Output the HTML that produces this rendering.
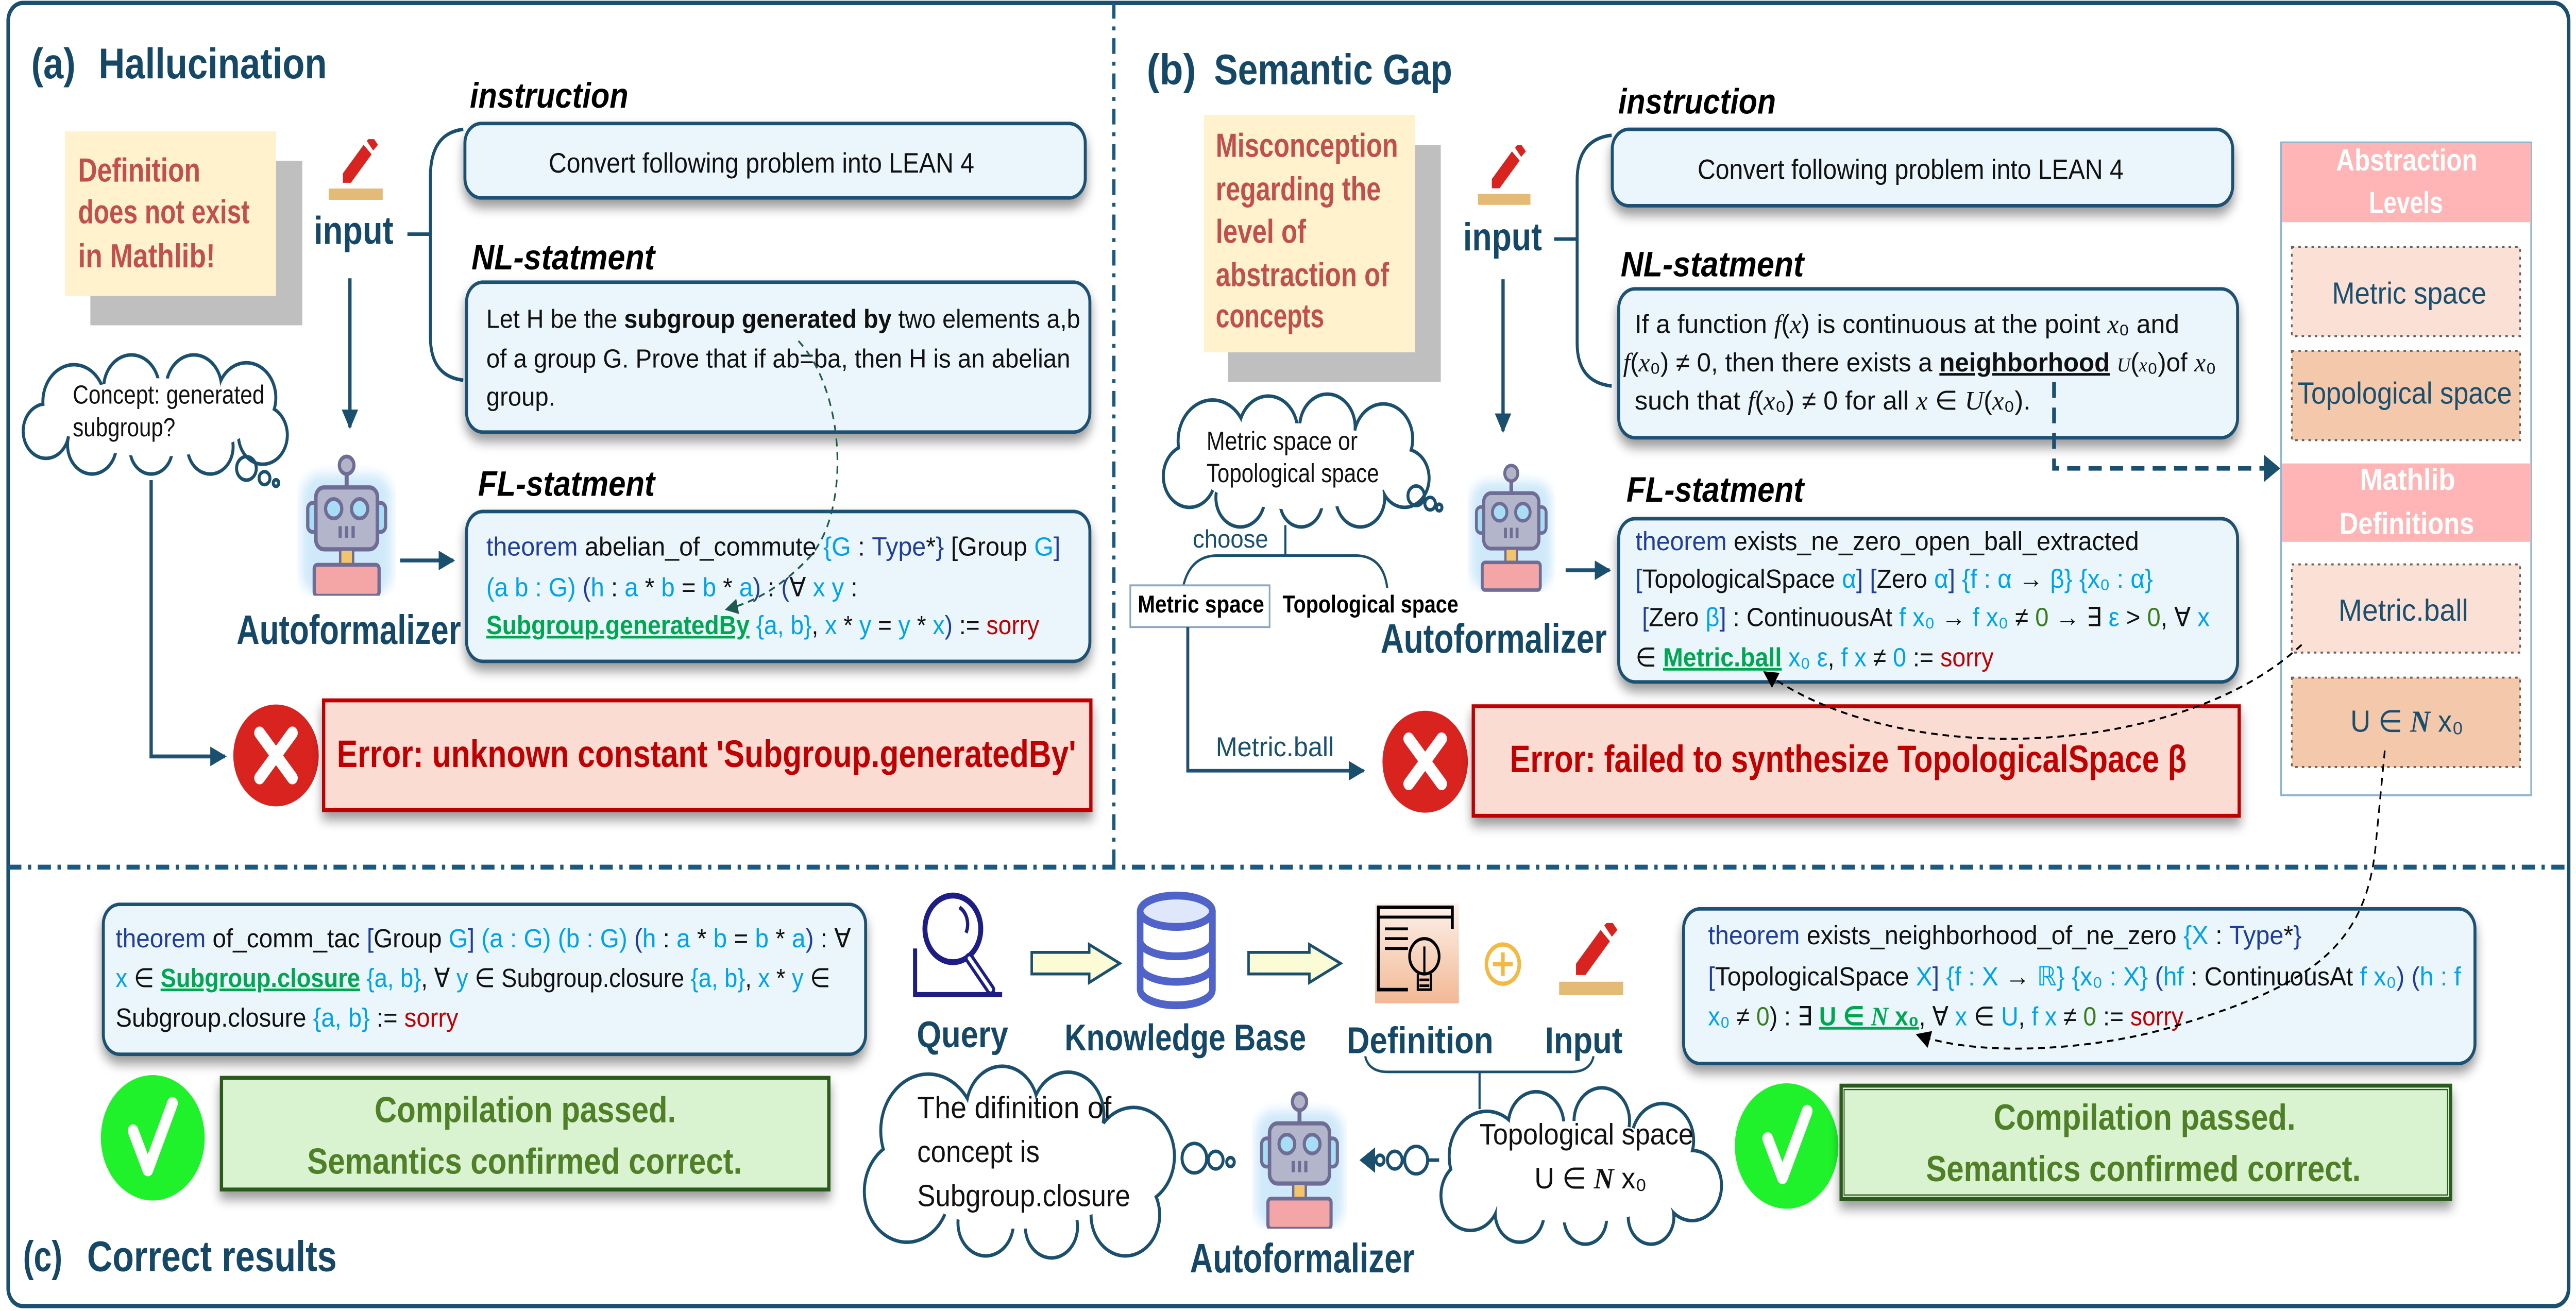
<!DOCTYPE html>
<html><head><meta charset="utf-8"><style>
html,body{margin:0;padding:0;background:#fff;width:100%;height:100%;overflow:hidden}
svg{display:block;position:absolute;left:0;top:0;width:100vw;height:100vh}
text{font-family:"Liberation Sans","DejaVu Sans",sans-serif}
.t{fill:#154866;font-weight:bold}
.lab{font-weight:bold;font-style:italic;fill:#000;font-size:18px}
.c{font-size:13.5px;fill:#111}
.k{fill:#1f3d99}.v{fill:#00a2e8}.g{fill:#00a651;font-weight:bold;text-decoration:underline}.r{fill:#c00000}.n{fill:#3a7d1e}
.m{font-family:"Liberation Serif",serif;font-style:italic}
</style></head><body>
<svg viewBox="0 0 1568 669" preserveAspectRatio="none" xmlns="http://www.w3.org/2000/svg">
<defs>
<filter id="sh" x="-10%" y="-20%" width="120%" height="160%"><feDropShadow dx="0" dy="4" stdDeviation="3" flood-color="#000" flood-opacity="0.4"/></filter>
<filter id="bl"><feGaussianBlur stdDeviation="3"/></filter>
<marker id="ah" viewBox="0 0 10 10" refX="9" refY="5" markerWidth="10" markerHeight="10" markerUnits="userSpaceOnUse" orient="auto"><path d="M0,0 L10,5 L0,10 z" fill="#1a4f6e"/></marker>
<marker id="ahk" viewBox="0 0 10 10" refX="9" refY="5" markerWidth="9" markerHeight="9" markerUnits="userSpaceOnUse" orient="auto"><path d="M0,0 L10,5 L0,10 z" fill="#000"/></marker>
<marker id="ahg" viewBox="0 0 10 10" refX="9" refY="5" markerWidth="8" markerHeight="8" markerUnits="userSpaceOnUse" orient="auto"><path d="M0,0 L10,5 L0,10 z" fill="#1f5a50"/></marker>
<linearGradient id="pe" x1="0" y1="0" x2="0" y2="1"><stop offset="0" stop-color="#fdf1ea"/><stop offset="1" stop-color="#f2b894"/></linearGradient>
<symbol id="robot" viewBox="0 0 60 75">
<rect x="2" y="12" width="56" height="63" rx="12" fill="#cfe9fa" filter="url(#bl)"/>
<line x1="30" y1="11" x2="30" y2="20" stroke="#6f6c95" stroke-width="2.5"/>
<circle cx="30" cy="7.5" r="4.5" fill="#b3b4c8" stroke="#6f6c95" stroke-width="2"/>
<rect x="6" y="27" width="7" height="15" rx="3" fill="#a8def5" stroke="#6f6c95" stroke-width="2"/>
<rect x="47" y="27" width="7" height="15" rx="3" fill="#a8def5" stroke="#6f6c95" stroke-width="2"/>
<rect x="11" y="19" width="38" height="32" rx="5" fill="#b3b5cb" stroke="#6f6c95" stroke-width="2.2"/>
<circle cx="22" cy="30" r="5" fill="#a8def5" stroke="#6f6c95" stroke-width="2"/>
<circle cx="38" cy="30" r="5" fill="#a8def5" stroke="#6f6c95" stroke-width="2"/>
<path d="M26,39v6M30,39v6M34,39v6" stroke="#6f6c95" stroke-width="2"/>
<rect x="26" y="51" width="8" height="8" fill="#f2c46c" stroke="#6f6c95" stroke-width="1.5"/>
<rect x="10" y="59" width="40" height="16" rx="2" fill="#f4a6a6" stroke="#6f6c95" stroke-width="2"/>
</symbol>
<symbol id="pen" viewBox="0 0 34 32">
<polygon points="9,18 22,3 27,8 14,23 9,23" fill="#d9231f"/>
<polygon points="24,1 27,-2 31,3 28,6" fill="#d9231f"/>
<rect x="0" y="26" width="34" height="6" fill="#e3bb77"/>
</symbol>
</defs>
<g>
<rect x="5" y="1.5" width="1558.5" height="665" rx="9" fill="none" stroke="#1a4f6e" stroke-width="2.2"/>
<line x1="678" y1="1.5" x2="678" y2="442" stroke="#1a5a80" stroke-width="2" stroke-dasharray="8 4 2 4"/>
<line x1="5" y1="442.5" x2="1563" y2="442.5" stroke="#1a5a80" stroke-width="2.5" stroke-dasharray="8 4 2 4"/>

<!-- ===== (a) ===== -->
<text class="t" x="19" y="40" font-size="22" textLength="27" lengthAdjust="spacingAndGlyphs">(a)</text>
<text class="t" x="60" y="40" font-size="22" textLength="139" lengthAdjust="spacingAndGlyphs">Hallucination</text>
<rect x="55" y="82" width="129" height="84" fill="#bfbfbf"/>
<rect x="39.5" y="67" width="128.5" height="84" fill="#fff2cc"/>
<g fill="#c0504d" font-weight="bold" font-size="17">
<text x="47.5" y="92.7" textLength="74.5" lengthAdjust="spacingAndGlyphs">Definition</text>
<text x="47.5" y="114" textLength="104.5" lengthAdjust="spacingAndGlyphs">does not exist</text>
<text x="47.5" y="136.4" textLength="83.5" lengthAdjust="spacingAndGlyphs">in Mathlib!</text>
</g>
<use href="#pen" x="200" y="71" width="33" height="31"/>
<text class="t" x="191" y="124.5" font-size="20" textLength="48.5" lengthAdjust="spacingAndGlyphs">input</text>
<path d="M282,66 Q262,68 262,90 V172 Q262,192 282,194 M248,119.5 H262" fill="none" stroke="#1a4f6e" stroke-width="1.8"/>
<line x1="213" y1="142" x2="213" y2="218" stroke="#1f5173" stroke-width="2" marker-end="url(#ah)"/>

<text class="lab" x="286" y="55" textLength="96.5" lengthAdjust="spacingAndGlyphs">instruction</text>
<rect x="283" y="63" width="377.6" height="38" rx="10" fill="#eaf6fc" stroke="#1f5173" stroke-width="1.8" filter="url(#sh)"/>
<text x="334" y="88" font-size="14.5" fill="#111" textLength="259" lengthAdjust="spacingAndGlyphs">Convert following problem into LEAN 4</text>

<text class="lab" x="287" y="137.5" textLength="111.6" lengthAdjust="spacingAndGlyphs">NL-statment</text>
<rect x="284" y="144" width="379.4" height="76.5" rx="10" fill="#eaf6fc" stroke="#1f5173" stroke-width="1.8" filter="url(#sh)"/>
<text class="c" x="296" y="167.3" textLength="361.5" lengthAdjust="spacingAndGlyphs">Let H be the <tspan font-weight="bold">subgroup generated by</tspan> two elements a,b</text>
<text class="c" x="296" y="187.5" textLength="355.5" lengthAdjust="spacingAndGlyphs">of a group G. Prove that if ab=ba, then H is an abelian</text>
<text class="c" x="296" y="207" textLength="42" lengthAdjust="spacingAndGlyphs">group.</text>

<text class="lab" x="291" y="253" textLength="107.6" lengthAdjust="spacingAndGlyphs">FL-statment</text>
<rect x="284" y="261" width="379.4" height="76.5" rx="10" fill="#eaf6fc" stroke="#1f5173" stroke-width="1.8" filter="url(#sh)"/>
<text class="c" x="296" y="283.5" textLength="349.5" lengthAdjust="spacingAndGlyphs"><tspan class="k">theorem</tspan> abelian_of_commute <tspan class="v">{G</tspan> : <tspan class="k">Type</tspan>*<tspan class="k">}</tspan> [Group <tspan class="v">G</tspan><tspan class="k">]</tspan></text>
<text class="c" x="296" y="304.3" textLength="226" lengthAdjust="spacingAndGlyphs"><tspan class="v">(a b : G)</tspan> <tspan class="k">(</tspan><tspan class="v">h</tspan> : <tspan class="v">a</tspan> * <tspan class="v">b</tspan> = <tspan class="v">b</tspan> * <tspan class="v">a</tspan><tspan class="k">)</tspan> : <tspan class="k">(</tspan>∀ <tspan class="v">x y</tspan> :</text>
<text class="c" x="296" y="323.6" textLength="336.6" lengthAdjust="spacingAndGlyphs"><tspan class="g">Subgroup.generatedBy</tspan> <tspan class="v">{a, b}</tspan>, <tspan class="v">x</tspan> * <tspan class="v">y</tspan> = <tspan class="v">y</tspan> * <tspan class="v">x</tspan><tspan class="k">)</tspan> := <tspan class="r">sorry</tspan></text>
<path d="M486,174 C515,200 518,262 492,285 C476,299 460,307 442,311" fill="none" stroke="#1f5a50" stroke-width="1" stroke-dasharray="4 3" marker-end="url(#ahg)"/>

<use href="#robot" x="181" y="230" width="60" height="74"/>
<text class="t" x="144" y="328.6" font-size="21" textLength="136.6" lengthAdjust="spacingAndGlyphs">Autoformalizer</text>
<line x1="243.6" y1="286" x2="276" y2="286" stroke="#1f5173" stroke-width="2" marker-end="url(#ah)"/>

<g stroke="#1a4f6e" stroke-width="3.6" fill="#fff">
<circle cx="45" cy="205" r="18"/><circle cx="80" cy="198" r="16"/><circle cx="118" cy="198" r="16"/><circle cx="150" cy="203" r="17"/><circle cx="160" cy="222" r="14"/><circle cx="128" cy="228" r="13"/><circle cx="92" cy="229" r="12"/><circle cx="56" cy="227" r="14"/><circle cx="28" cy="220" r="13"/>
</g>
<g fill="#fff"><circle cx="45" cy="205" r="18"/><circle cx="80" cy="198" r="16"/><circle cx="118" cy="198" r="16"/><circle cx="150" cy="203" r="17"/><circle cx="160" cy="222" r="14"/><circle cx="128" cy="228" r="13"/><circle cx="92" cy="229" r="12"/><circle cx="56" cy="227" r="14"/><circle cx="28" cy="220" r="13"/><ellipse cx="95" cy="213" rx="60" ry="20"/></g>
<g fill="none" stroke="#1a4f6e" stroke-width="1.8"><circle cx="150" cy="239" r="6"/><circle cx="161" cy="244" r="3.3"/><circle cx="168" cy="246.5" r="1.7"/></g>
<text x="44.3" y="206" font-size="13.5" fill="#111" textLength="116.7" lengthAdjust="spacingAndGlyphs">Concept: generated</text>
<text x="44.3" y="222.7" font-size="13.5" fill="#111" textLength="62.4" lengthAdjust="spacingAndGlyphs">subgroup?</text>
<path d="M92,245 V386 H137" fill="none" stroke="#1f5173" stroke-width="2" marker-end="url(#ah)"/>

<circle cx="168" cy="385.5" r="26" fill="#d9231f"/>
<path d="M158,374 L178,397 M178,374 L158,397" stroke="#fff" stroke-width="6.5" stroke-linecap="round"/>
<rect x="197" y="357.4" width="467" height="56" fill="#fadcd2" stroke="#c00000" stroke-width="2" filter="url(#sh)"/>
<text x="205" y="391.4" font-size="19.5" font-weight="bold" fill="#c00000" textLength="450" lengthAdjust="spacingAndGlyphs">Error: unknown constant 'Subgroup.generatedBy'</text>

<!-- ===== (b) ===== -->
<text class="t" x="698" y="43" font-size="22" textLength="30" lengthAdjust="spacingAndGlyphs">(b)</text>
<text class="t" x="739" y="43" font-size="22" textLength="145" lengthAdjust="spacingAndGlyphs">Semantic Gap</text>
<rect x="747.4" y="74" width="129.6" height="121" fill="#bfbfbf"/>
<rect x="732.8" y="58.6" width="128.5" height="121.2" fill="#fff2cc"/>
<g fill="#c0504d" font-weight="bold" font-size="17">
<text x="740" y="80" textLength="111" lengthAdjust="spacingAndGlyphs">Misconception</text>
<text x="740" y="102.3" textLength="100.5" lengthAdjust="spacingAndGlyphs">regarding the</text>
<text x="740" y="124" textLength="55" lengthAdjust="spacingAndGlyphs">level of</text>
<text x="740" y="146" textLength="105.5" lengthAdjust="spacingAndGlyphs">abstraction of</text>
<text x="740" y="167" textLength="66" lengthAdjust="spacingAndGlyphs">concepts</text>
</g>
<use href="#pen" x="899.6" y="74" width="32" height="31"/>
<text class="t" x="890.6" y="127.8" font-size="20" textLength="48" lengthAdjust="spacingAndGlyphs">input</text>
<path d="M981,69 Q960,71 960,92 V175 Q960,195 981,197 M946,122 H960" fill="none" stroke="#1a4f6e" stroke-width="1.8"/>
<line x1="914.9" y1="142.5" x2="914.9" y2="220" stroke="#1f5173" stroke-width="2" marker-end="url(#ah)"/>

<text class="lab" x="985" y="58" textLength="96" lengthAdjust="spacingAndGlyphs">instruction</text>
<rect x="981.4" y="66" width="377.6" height="39" rx="10" fill="#eaf6fc" stroke="#1f5173" stroke-width="1.8" filter="url(#sh)"/>
<text x="1033.3" y="91.3" font-size="14.5" fill="#111" textLength="259.3" lengthAdjust="spacingAndGlyphs">Convert following problem into LEAN 4</text>

<text class="lab" x="986.5" y="141" textLength="111.5" lengthAdjust="spacingAndGlyphs">NL-statment</text>
<rect x="985.3" y="147.4" width="376.7" height="76" rx="10" fill="#eaf6fc" stroke="#1f5173" stroke-width="1.8" filter="url(#sh)"/>
<text class="c" x="995" y="170" textLength="331.5" lengthAdjust="spacingAndGlyphs">If a function <tspan class="m">f</tspan>(<tspan class="m">x</tspan>) is continuous at the point <tspan class="m">x</tspan>₀  and</text>
<text class="c" x="988" y="189.5" textLength="361" lengthAdjust="spacingAndGlyphs"><tspan class="m">f</tspan>(<tspan class="m">x</tspan>₀) ≠ 0, then there exists a <tspan font-weight="bold" text-decoration="underline">neighborhood</tspan>  <tspan class="m" font-size="10">U</tspan>(<tspan class="m" font-size="10">x</tspan>₀)of <tspan class="m">x</tspan>₀</text>
<text class="c" x="995" y="209" textLength="241" lengthAdjust="spacingAndGlyphs">such that <tspan class="m">f</tspan>(<tspan class="m">x</tspan>₀) ≠ 0  for all <tspan class="m">x</tspan> ∈ <tspan class="m">U</tspan>(<tspan class="m">x</tspan>₀).</text>

<text class="lab" x="990" y="256" textLength="108" lengthAdjust="spacingAndGlyphs">FL-statment</text>
<rect x="985.3" y="264.7" width="376.7" height="83.3" rx="10" fill="#eaf6fc" stroke="#1f5173" stroke-width="1.8" filter="url(#sh)"/>
<text class="c" x="995.5" y="280.7" textLength="306.5" lengthAdjust="spacingAndGlyphs"><tspan class="k">theorem</tspan> exists_ne_zero_open_ball_extracted</text>
<text class="c" x="995.5" y="300" textLength="315" lengthAdjust="spacingAndGlyphs"><tspan class="k">[</tspan>TopologicalSpace <tspan class="v">α</tspan><tspan class="k">]</tspan> <tspan class="k">[</tspan>Zero <tspan class="v">α</tspan><tspan class="k">]</tspan> <tspan class="v">{f : α</tspan> → <tspan class="v">β}</tspan> <tspan class="v">{x₀ : α}</tspan></text>
<text class="c" x="999.5" y="319.5" textLength="345.5" lengthAdjust="spacingAndGlyphs"><tspan class="k">[</tspan>Zero <tspan class="v">β</tspan><tspan class="k">]</tspan> : ContinuousAt <tspan class="v">f x₀</tspan> → <tspan class="v">f x₀</tspan> ≠ <tspan class="n">0</tspan> → ∃ <tspan class="v">ε</tspan> &gt; <tspan class="n">0</tspan>, ∀ <tspan class="v">x</tspan></text>
<text class="c" x="995.5" y="340" textLength="218" lengthAdjust="spacingAndGlyphs">∈ <tspan class="g">Metric.ball</tspan> <tspan class="v">x₀ ε</tspan>, <tspan class="v">f x</tspan> ≠ <tspan class="v">0</tspan> := <tspan class="r">sorry</tspan></text>

<use href="#robot" x="893.4" y="234" width="53" height="68"/>
<text class="t" x="840.4" y="333" font-size="21" textLength="137.6" lengthAdjust="spacingAndGlyphs">Autoformalizer</text>
<line x1="953" y1="291" x2="979.7" y2="291" stroke="#1f5173" stroke-width="2" marker-end="url(#ah)"/>

<g stroke="#1a4f6e" stroke-width="3.6" fill="#fff">
<circle cx="738" cy="225" r="20"/><circle cx="772" cy="220" r="17"/><circle cx="808" cy="218" r="16"/><circle cx="842" cy="224" r="17"/><circle cx="855" cy="244" r="14"/><circle cx="828" cy="254" r="14"/><circle cx="792" cy="256" r="12"/><circle cx="755" cy="254" r="14"/><circle cx="724" cy="243" r="15"/>
</g>
<g fill="#fff"><circle cx="738" cy="225" r="20"/><circle cx="772" cy="220" r="17"/><circle cx="808" cy="218" r="16"/><circle cx="842" cy="224" r="17"/><circle cx="855" cy="244" r="14"/><circle cx="828" cy="254" r="14"/><circle cx="792" cy="256" r="12"/><circle cx="755" cy="254" r="14"/><circle cx="724" cy="243" r="15"/><ellipse cx="790" cy="238" rx="62" ry="22"/></g>
<g fill="none" stroke="#1a4f6e" stroke-width="1.8"><circle cx="862" cy="253" r="5"/><circle cx="870.5" cy="257" r="3.2"/><circle cx="876" cy="259" r="1.7"/></g>
<text x="734.4" y="229.6" font-size="13.5" fill="#111" textLength="92" lengthAdjust="spacingAndGlyphs">Metric space or</text>
<text x="734.4" y="246" font-size="13.5" fill="#111" textLength="105" lengthAdjust="spacingAndGlyphs">Topological space</text>
<text x="726" y="279.4" font-size="13" fill="#1a4f6e" textLength="46" lengthAdjust="spacingAndGlyphs">choose</text>
<path d="M782.4,268 V283.5 M720,300 Q724,284 740,283.5 H826 Q842,284 844.4,300" fill="none" stroke="#1a4f6e" stroke-width="1.3"/>
<rect x="688" y="298.7" width="84.8" height="21.3" fill="#fff" stroke="#8aa8c0" stroke-width="1"/>
<text x="692.5" y="312.6" font-size="12.5" font-weight="bold" fill="#000" textLength="77" lengthAdjust="spacingAndGlyphs">Metric space</text>
<text x="780.7" y="312.6" font-size="12.5" font-weight="bold" fill="#000" textLength="107" lengthAdjust="spacingAndGlyphs">Topological space</text>
<path d="M723,320 V393.3 H830" fill="none" stroke="#1f5173" stroke-width="1.8" marker-end="url(#ah)"/>
<text x="740" y="385.9" font-size="14" fill="#1a4f6e" textLength="72" lengthAdjust="spacingAndGlyphs">Metric.ball</text>

<circle cx="867.5" cy="388.7" r="26" fill="#d9231f"/>
<path d="M857.5,377 L877.5,400 M877.5,377 L857.5,400" stroke="#fff" stroke-width="6.5" stroke-linecap="round"/>
<rect x="896.8" y="360.4" width="466.2" height="55.9" fill="#fadcd2" stroke="#c00000" stroke-width="2" filter="url(#sh)"/>
<text x="919" y="394" font-size="19.5" font-weight="bold" fill="#c00000" textLength="412" lengthAdjust="spacingAndGlyphs">Error: failed to synthesize TopologicalSpace β</text>

<rect x="1388.5" y="72.7" width="152.2" height="333.1" fill="#fff" stroke="#8eb4d0" stroke-width="1"/>
<rect x="1389" y="73" width="151.5" height="40.4" fill="#ffb5b5"/>
<rect x="1389" y="236.5" width="151.5" height="40" fill="#ffb5b5"/>
<g fill="#fff" font-weight="bold" font-size="15.5">
<text x="1422" y="87" textLength="86" lengthAdjust="spacingAndGlyphs">Abstraction</text>
<text x="1442" y="108.7" textLength="45" lengthAdjust="spacingAndGlyphs">Levels</text>
<text x="1436.5" y="250" textLength="58" lengthAdjust="spacingAndGlyphs">Mathlib</text>
<text x="1424" y="272.5" textLength="82" lengthAdjust="spacingAndGlyphs">Definitions</text>
</g>
<g stroke="#6d5f55" stroke-width="1" stroke-dasharray="1.5 2.5">
<rect x="1395" y="126" width="139" height="45.5" fill="#fbe0d5"/>
<rect x="1395" y="179" width="139" height="45.6" fill="#f4c8ab"/>
<rect x="1395" y="288" width="139" height="45" fill="#fbe0d5"/>
<rect x="1395" y="345.8" width="139" height="45.6" fill="#f4c8ab"/>
</g>
<g fill="#1a4f6e" font-size="15.5">
<text x="1419.5" y="155" textLength="94" lengthAdjust="spacingAndGlyphs">Metric space</text>
<text x="1398.6" y="206" textLength="130.4" lengthAdjust="spacingAndGlyphs">Topological space</text>
<text x="1423.4" y="316.7" textLength="79" lengthAdjust="spacingAndGlyphs">Metric.ball</text>
<text x="1430.7" y="373.4" textLength="68.8" lengthAdjust="spacingAndGlyphs">U ∈ <tspan font-family="Liberation Serif" font-style="italic" font-weight="bold">N</tspan> x₀</text>
</g>
<path d="M1250.3,195 V239 H1380" fill="none" stroke="#1a4f6e" stroke-width="2.3" stroke-dasharray="8 5"/>
<path d="M1378,232 L1388,239 L1378,246 z" fill="#1a4f6e"/>
<path d="M1401,329 C1330,385 1160,395 1074,343" fill="none" stroke="#000" stroke-width="1" stroke-dasharray="4 3" marker-end="url(#ahk)"/>

<!-- ===== (c) ===== -->
<text class="t" x="14" y="648.6" font-size="22" textLength="24" lengthAdjust="spacingAndGlyphs">(c)</text>
<text class="t" x="53" y="648.6" font-size="22" textLength="152" lengthAdjust="spacingAndGlyphs">Correct results</text>

<rect x="62.9" y="461.5" width="464" height="76.5" rx="10" fill="#eaf6fc" stroke="#1f5173" stroke-width="1.8" filter="url(#sh)"/>
<text class="c" x="70.4" y="483.4" textLength="447.6" lengthAdjust="spacingAndGlyphs"><tspan class="k">theorem</tspan> of_comm_tac <tspan class="k">[</tspan>Group <tspan class="v">G</tspan><tspan class="k">]</tspan> <tspan class="v">(a : G)</tspan> <tspan class="v">(b : G)</tspan> <tspan class="k">(</tspan><tspan class="v">h</tspan> : <tspan class="v">a</tspan> * <tspan class="v">b</tspan> = <tspan class="v">b</tspan> * <tspan class="v">a</tspan><tspan class="k">)</tspan> : ∀</text>
<text class="c" x="70.4" y="503.6" textLength="435" lengthAdjust="spacingAndGlyphs"><tspan class="v">x</tspan> ∈ <tspan class="g">Subgroup.closure</tspan> <tspan class="v">{a, b}</tspan>, ∀ <tspan class="v">y</tspan> ∈ Subgroup.closure <tspan class="v">{a, b}</tspan>, <tspan class="v">x</tspan> * <tspan class="v">y</tspan> ∈</text>
<text class="c" x="70.4" y="523.9" textLength="208.6" lengthAdjust="spacingAndGlyphs">Subgroup.closure <tspan class="v">{a, b}</tspan> := <tspan class="r">sorry</tspan></text>

<ellipse cx="93" cy="580.6" rx="31.6" ry="32" fill="#1ff22b"/>
<path d="M81,577 L90,597 L105,563" fill="none" stroke="#fff" stroke-width="6.5" stroke-linecap="round" stroke-linejoin="round"/>
<rect x="134.8" y="550" width="369.7" height="57" fill="#d9f2d0" stroke="#2b5a1b" stroke-width="2" filter="url(#sh)"/>
<text x="228" y="572.7" font-size="18.5" font-weight="bold" fill="#4f7f26" textLength="183.5" lengthAdjust="spacingAndGlyphs">Compilation passed.</text>
<text x="187" y="599" font-size="18.5" font-weight="bold" fill="#4f7f26" textLength="264.7" lengthAdjust="spacingAndGlyphs">Semantics confirmed correct.</text>

<circle cx="580" cy="474" r="17" fill="#fff" stroke="#1c1e85" stroke-width="3"/>
<path d="M584,463 A10,10 0 0 1 588,476" fill="none" stroke="#1c1e85" stroke-width="2"/>
<line x1="590" y1="489" x2="603" y2="505" stroke="#1c1e85" stroke-width="5.5" stroke-linecap="round"/>
<line x1="590" y1="489" x2="603" y2="505" stroke="#fff" stroke-width="2" stroke-linecap="round"/>
<path d="M557,484 V507.5 H610" fill="none" stroke="#1c1e85" stroke-width="2.5"/>
<text class="t" x="558" y="534.4" font-size="19" textLength="55.7" lengthAdjust="spacingAndGlyphs">Query</text>
<path d="M628,486 H663 V482 L681.6,491.6 L663,501.4 V497 H628 z" fill="#fbfbd5" stroke="#1a4f6e" stroke-width="1.5"/>
<path d="M760,486 H797 V482 L816,491.6 L797,501.4 V497 H760 z" fill="#fbfbd5" stroke="#1a4f6e" stroke-width="1.5"/>
<path d="M694,465 V505 A22,8 0 0 0 738,505 V465" fill="#fff" stroke="#4f63c8" stroke-width="4"/>
<ellipse cx="716" cy="465" rx="22" ry="8" fill="#dfe7fa" stroke="#4f63c8" stroke-width="4"/>
<path d="M694,480 A22,8 0 0 0 738,480 M694,493 A22,8 0 0 0 738,493" fill="none" stroke="#4f63c8" stroke-width="4"/>
<text class="t" x="648" y="536" font-size="19" textLength="147" lengthAdjust="spacingAndGlyphs">Knowledge Base</text>
<rect x="837" y="461" width="51" height="51" fill="url(#pe)"/>
<path d="M857,505 H839 V463 H884 V474" fill="none" stroke="#000" stroke-width="1.8"/>
<line x1="839" y1="468" x2="884" y2="468" stroke="#000" stroke-width="1.5"/>
<path d="M843,474h14M843,479h14M843,484h14" stroke="#000" stroke-width="1.5"/>
<circle cx="867" cy="488" r="9" fill="none" stroke="#000" stroke-width="1.6"/>
<path d="M863,497v8h8v-8M864,500h6M864,503h6M867,483v14" fill="none" stroke="#000" stroke-width="1.3"/>
<text class="t" x="819.7" y="537.4" font-size="19" textLength="89.3" lengthAdjust="spacingAndGlyphs">Definition</text>
<circle cx="914.8" cy="492" r="10" fill="none" stroke="#f4b942" stroke-width="2.2"/>
<path d="M914.8,486v12M908.8,492h12" stroke="#f4b942" stroke-width="2.2"/>
<use href="#pen" x="949" y="471" width="39" height="37"/>
<text class="t" x="940.4" y="537.4" font-size="19" textLength="47.2" lengthAdjust="spacingAndGlyphs">Input</text>
<path d="M831,539 Q833,547 845,547 H956 Q968,547 970,539 M900.6,547 V566" fill="none" stroke="#1a4f6e" stroke-width="1.3"/>

<g stroke="#1a4f6e" stroke-width="3.6" fill="#fff">
<circle cx="565" cy="577" r="28"/><circle cx="610" cy="566" r="21"/><circle cx="650" cy="569" r="21"/><circle cx="690" cy="590" r="24"/><circle cx="685" cy="620" r="20"/><circle cx="640" cy="626" r="15"/><circle cx="600" cy="624" r="16"/><circle cx="552" cy="608" r="25"/>
</g>
<g fill="#fff"><circle cx="565" cy="577" r="28"/><circle cx="610" cy="566" r="21"/><circle cx="650" cy="569" r="21"/><circle cx="690" cy="590" r="24"/><circle cx="685" cy="620" r="20"/><circle cx="640" cy="626" r="15"/><circle cx="600" cy="624" r="16"/><circle cx="552" cy="608" r="25"/><ellipse cx="620" cy="595" rx="70" ry="32"/></g>
<g fill="none" stroke="#1a4f6e" stroke-width="1.8"><circle cx="727" cy="591" r="7.5"/><circle cx="740" cy="592" r="4.5"/><circle cx="749" cy="593" r="2.3"/></g>
<text x="558.3" y="570.5" font-size="15.5" fill="#111" textLength="118.2" lengthAdjust="spacingAndGlyphs">The difinition of</text>
<text x="558.3" y="593" font-size="15.5" fill="#111" textLength="74.5" lengthAdjust="spacingAndGlyphs">concept is</text>
<text x="558.3" y="615.5" font-size="15.5" fill="#111" textLength="129.7" lengthAdjust="spacingAndGlyphs">Subgroup.closure</text>

<use href="#robot" x="762" y="555" width="58" height="72"/>
<text class="t" x="724.3" y="649.3" font-size="21" textLength="136.7" lengthAdjust="spacingAndGlyphs">Autoformalizer</text>

<g stroke="#1a4f6e" stroke-width="3.6" fill="#fff">
<circle cx="905" cy="590" r="22"/><circle cx="935" cy="574" r="16"/><circle cx="975" cy="572" r="16"/><circle cx="1012" cy="582" r="18"/><circle cx="1030" cy="605" r="17"/><circle cx="1005" cy="621" r="13"/><circle cx="965" cy="622" r="12"/><circle cx="925" cy="619" r="14"/><circle cx="895" cy="610" r="17"/>
</g>
<g fill="#fff"><circle cx="905" cy="590" r="22"/><circle cx="935" cy="574" r="16"/><circle cx="975" cy="572" r="16"/><circle cx="1012" cy="582" r="18"/><circle cx="1030" cy="605" r="17"/><circle cx="1005" cy="621" r="13"/><circle cx="965" cy="622" r="12"/><circle cx="925" cy="619" r="14"/><circle cx="895" cy="610" r="17"/><ellipse cx="960" cy="598" rx="66" ry="26"/></g>
<g fill="none" stroke="#1a4f6e" stroke-width="1.8"><circle cx="862" cy="592" r="7"/><circle cx="849" cy="592" r="4.5"/><circle cx="840" cy="592" r="2.5"/><line x1="869" y1="592" x2="876" y2="592"/></g>
<path d="M827.5,592 L837,585.5 L837,598.5 z" fill="#1a4f6e"/>
<text x="900.6" y="584" font-size="15" fill="#111" textLength="130.2" lengthAdjust="spacingAndGlyphs">Topological space</text>
<text x="934" y="606.5" font-size="15" fill="#111" textLength="68.4" lengthAdjust="spacingAndGlyphs">U ∈ <tspan font-family="Liberation Serif" font-style="italic" font-weight="bold">N</tspan> x₀</text>

<rect x="1024.8" y="463.8" width="481.7" height="78.9" rx="10" fill="#eaf6fc" stroke="#1f5173" stroke-width="1.8" filter="url(#sh)"/>
<text class="c" x="1039.7" y="481.9" textLength="361.3" lengthAdjust="spacingAndGlyphs"><tspan class="k">theorem</tspan> exists_neighborhood_of_ne_zero <tspan class="v">{X</tspan> : <tspan class="k">Type</tspan>*<tspan class="k">}</tspan></text>
<text class="c" x="1039.7" y="502.9" textLength="458.3" lengthAdjust="spacingAndGlyphs"><tspan class="k">[</tspan>TopologicalSpace <tspan class="v">X</tspan><tspan class="k">]</tspan> <tspan class="v">{f : X</tspan> → <tspan class="v">ℝ}</tspan> <tspan class="v">{x₀ : X}</tspan>  <tspan class="k">(</tspan><tspan class="v">hf</tspan> : ContinuousAt <tspan class="v">f x₀</tspan><tspan class="k">)</tspan> <tspan class="k">(</tspan><tspan class="v">h : f</tspan></text>
<text class="c" x="1039.7" y="523.2" textLength="289.3" lengthAdjust="spacingAndGlyphs"><tspan class="v">x₀</tspan> ≠ <tspan class="n">0</tspan>) : ∃ <tspan class="g">U ∈ <tspan font-family="Liberation Serif" font-style="italic">N</tspan> x₀</tspan>, ∀ <tspan class="v">x</tspan> ∈ <tspan class="v">U</tspan>, <tspan class="v">f x</tspan> ≠ <tspan class="n">0</tspan> := <tspan class="r">sorry</tspan></text>
<path d="M1451.6,383 L1446,432 C1440,482 1408,502 1330,522 C1280,536 1205,540 1167,528" fill="none" stroke="#000" stroke-width="1" stroke-dasharray="4 3" marker-end="url(#ahk)"/>

<ellipse cx="1087.5" cy="584.8" rx="31.5" ry="32" fill="#1ff22b"/>
<path d="M1076,581 L1085,601 L1100,567" fill="none" stroke="#fff" stroke-width="6.5" stroke-linecap="round" stroke-linejoin="round"/>
<rect x="1120.7" y="554" width="370.9" height="57.8" fill="#d9f2d0" stroke="#2b5a1b" stroke-width="2" filter="url(#sh)"/>
<rect x="1122.5" y="556" width="367.3" height="53.8" fill="none" stroke="#2b5a1b" stroke-width="0.6"/>
<text x="1213.5" y="576.5" font-size="18.5" font-weight="bold" fill="#4f7f26" textLength="183.8" lengthAdjust="spacingAndGlyphs">Compilation passed.</text>
<text x="1172.3" y="602.8" font-size="18.5" font-weight="bold" fill="#4f7f26" textLength="264.7" lengthAdjust="spacingAndGlyphs">Semantics confirmed correct.</text>
</g>
</svg>
</body></html>
